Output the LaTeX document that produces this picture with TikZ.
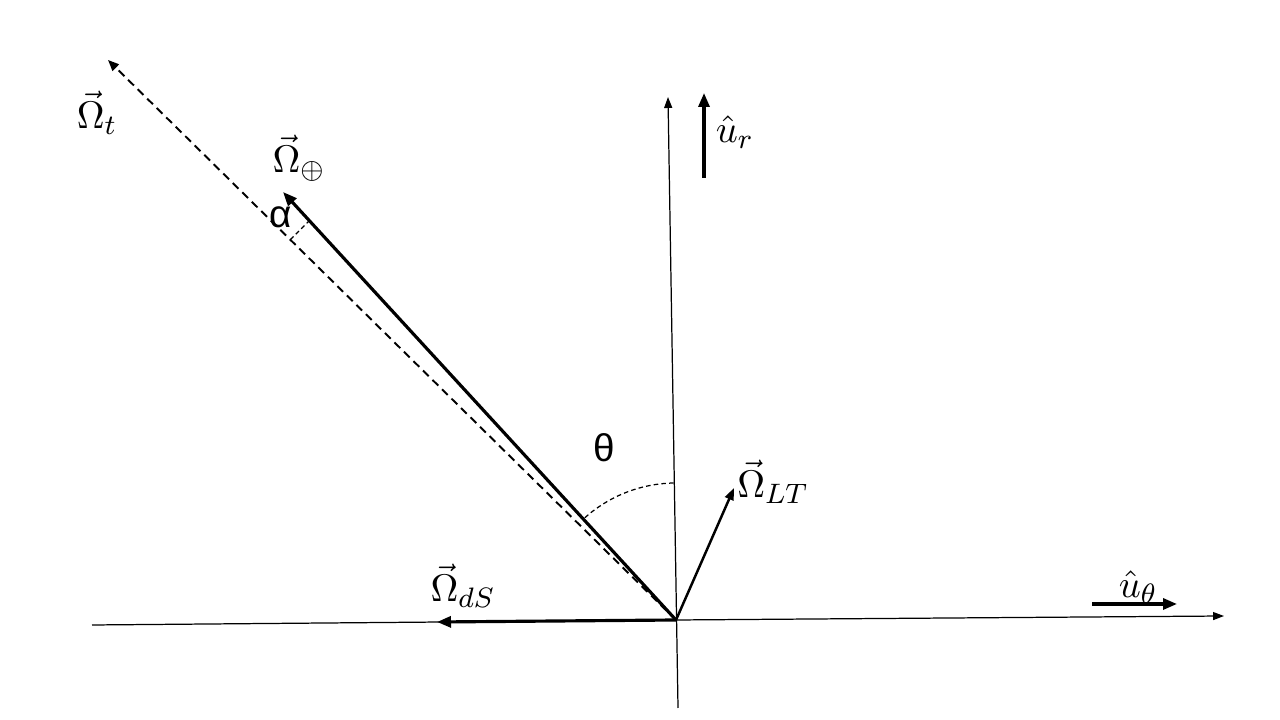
\documentclass[tikz,border=0pt]{standalone}
\usepackage{amsmath,amssymb}
\usepackage{fontspec}
\usepackage{tikz}
\usetikzlibrary{arrows.meta,calc}
\newfontfamily\greeksans{Liberation Sans}

\begin{document}
\begin{tikzpicture}[
    axis/.style={line width=0.35pt, -{Triangle[length=1.1mm,width=0.8mm]}},
    vect/.style={line width=0.9pt, -{Triangle[length=1.4mm,width=1.1mm]}},
    thinvect/.style={line width=0.7pt, -{Triangle[length=1.2mm,width=0.9mm]}},
    dashvect/.style={line width=0.55pt, dash pattern=on 2.3pt off 1.5pt, -{Triangle[length=1.1mm,width=0.9mm]}},
    guide/.style={line width=0.35pt, dash pattern=on 1.3pt off 0.9pt},
    lbl/.style={inner sep=0pt, font=\fontsize{11}{13}\selectfont},
    angl/.style={inner sep=0pt, font=\greeksans\fontsize{11}{13}\selectfont}]

    \useasboundingbox (0,0) rectangle (12.8,7.2);

    % axes
    \coordinate (O) at (6.76,1.00);
    \coordinate (xl) at (0.92,0.95);
    \coordinate (xr) at (12.24,1.04);
    \coordinate (yb) at (6.78,0.12);
    \coordinate (yt) at (6.68,6.23);

    % vector tips
    \coordinate (tot) at (1.08,6.60);
    \coordinate (earth) at (2.83,5.28);
    \coordinate (lt) at (7.34,2.32);
    \coordinate (ds) at (4.37,0.98);

    % unit vectors
    \coordinate (ur0) at (7.04,5.42);
    \coordinate (ur1) at (7.04,6.27);
    \coordinate (ut0) at (10.92,1.16);
    \coordinate (ut1) at (11.77,1.16);

    % alpha marker
    \coordinate (a0) at ($(O)!0.679!(tot)$);
    \coordinate (a1) at ($(O)!0.933!(earth)$);

    \draw[line width=0.35pt] (xl) -- (O);
    \draw[axis] (O) -- (xr);
    \draw[axis] (yb) -- (yt);

    \draw[dashvect] (O) -- (tot);
    \draw[vect] (O) -- (earth);
    \draw[thinvect] (O) -- (lt);
    \draw[vect] (O) -- (ds);

    \draw[vect] (ur0) -- (ur1);
    \draw[vect] (ut0) -- (ut1);

    \draw[guide] (a0) -- (a1);
    \draw[guide] ($(O)+(91:1.37)$) arc[start angle=91, end angle=132.6, radius=1.37];

    \node[lbl] (Ltot) at (0.97,6.07) {$\vec{\Omega}_t$};
    \node[lbl] (Learth) at (2.99,5.62) {$\vec{\Omega}_\oplus$};
    \node[lbl] (Llt) at (7.73,2.38) {$\vec{\Omega}_{LT}$};
    \node[lbl] (Lds) at (4.63,1.34) {$\vec{\Omega}_{dS}$};
    \node[lbl] (Lur) at (7.35,5.88) {$\hat{u}_r$};
    \node[lbl] (Lut) at (11.38,1.33) {$\hat{u}_\theta$};

    \node[angl] (Lalpha) at (2.81,5.03) {α};
    \node[angl] (Ltheta) at (6.04,2.72) {θ};

\end{tikzpicture}
\end{document}
